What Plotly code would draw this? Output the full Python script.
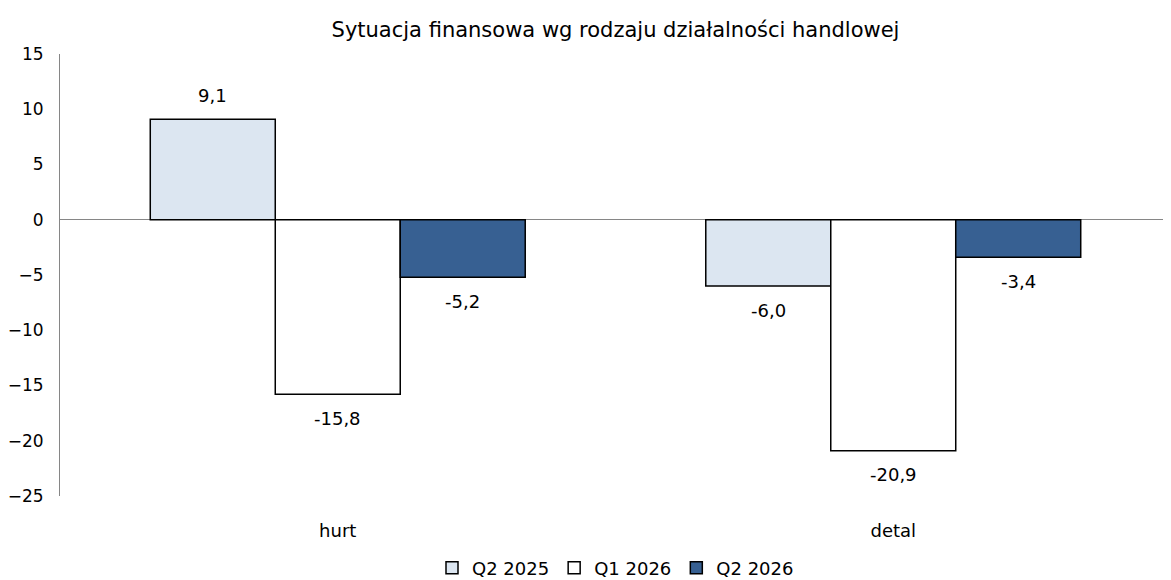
import plotly.graph_objects as go

categories = ["hurt", "detal"]
series_names = ["Q2 2025", "Q1 2026", "Q2 2026"]
q2_2025 = [9.1, -6.0]
q1_2026 = [-15.8, -20.9]
q2_2026 = [-5.2, -3.4]
y_ticks = [-25, -20, -15, -10, -5, 0, 5, 10, 15]

series = [q2_2025, q1_2026, q2_2026]
colors = ["#DCE6F1", "#FFFFFF", "#376092"]
font_family = "DejaVu Sans"

fig = go.Figure()
for name, vals, col in zip(series_names, series, colors):
    fig.add_trace(go.Bar(
        x=categories, y=vals, name=name,
        marker=dict(color=col, line=dict(color="black", width=1.5)),
    ))

# page body has an 8px margin, so the figure is drawn a bit smaller
W, H = 1163, 572
ml, mr, mt, mb = 52, 0, 46, 84
bargap = 0.325
cat_w = (W - ml - mr) / len(categories)
bar_w = cat_w * (1 - bargap) / len(series)

# value labels, placed above / below each bar
for i, vals in enumerate(series):
    for cat, v in zip(categories, vals):
        fig.add_annotation(
            x=cat, y=v, text=f"{v:.1f}".replace(".", ","),
            showarrow=False, xshift=(i - 1) * bar_w,
            yshift=24 if v >= 0 else -24, yanchor="middle",
            font=dict(size=18, color="black", family=font_family),
        )

fig.update_layout(
    width=W, height=H,
    margin=dict(l=ml, r=mr, t=mt, b=mb, autoexpand=False),
    paper_bgcolor="white", plot_bgcolor="white",
    font=dict(family=font_family, size=18, color="black"),
    title=dict(text="Sytuacja finansowa wg rodzaju działalności handlowej",
               x=0.5, xref="paper", y=1 - 22 / H, yref="container", yanchor="middle",
               font=dict(size=21, family=font_family, color="black")),
    barmode="group", bargap=bargap, bargroupgap=0,
    legend=dict(orientation="h", x=0.5, xanchor="center", y=-0.163, yanchor="middle",
                font=dict(size=18), traceorder="normal"),
    showlegend=True,
)
fig.update_yaxes(range=[-25, 15], tickvals=y_ticks, showgrid=False,
                 showline=True, linecolor="#868686", linewidth=1,
                 zeroline=True, zerolinecolor="#868686", zerolinewidth=1,
                 ticks="", ticklabelstandoff=12, tickfont=dict(size=17),
                 automargin=False)
fig.update_xaxes(showgrid=False, showline=False, ticks="", ticklabelstandoff=22,
                 automargin=False)

fig.write_html("out.html")
